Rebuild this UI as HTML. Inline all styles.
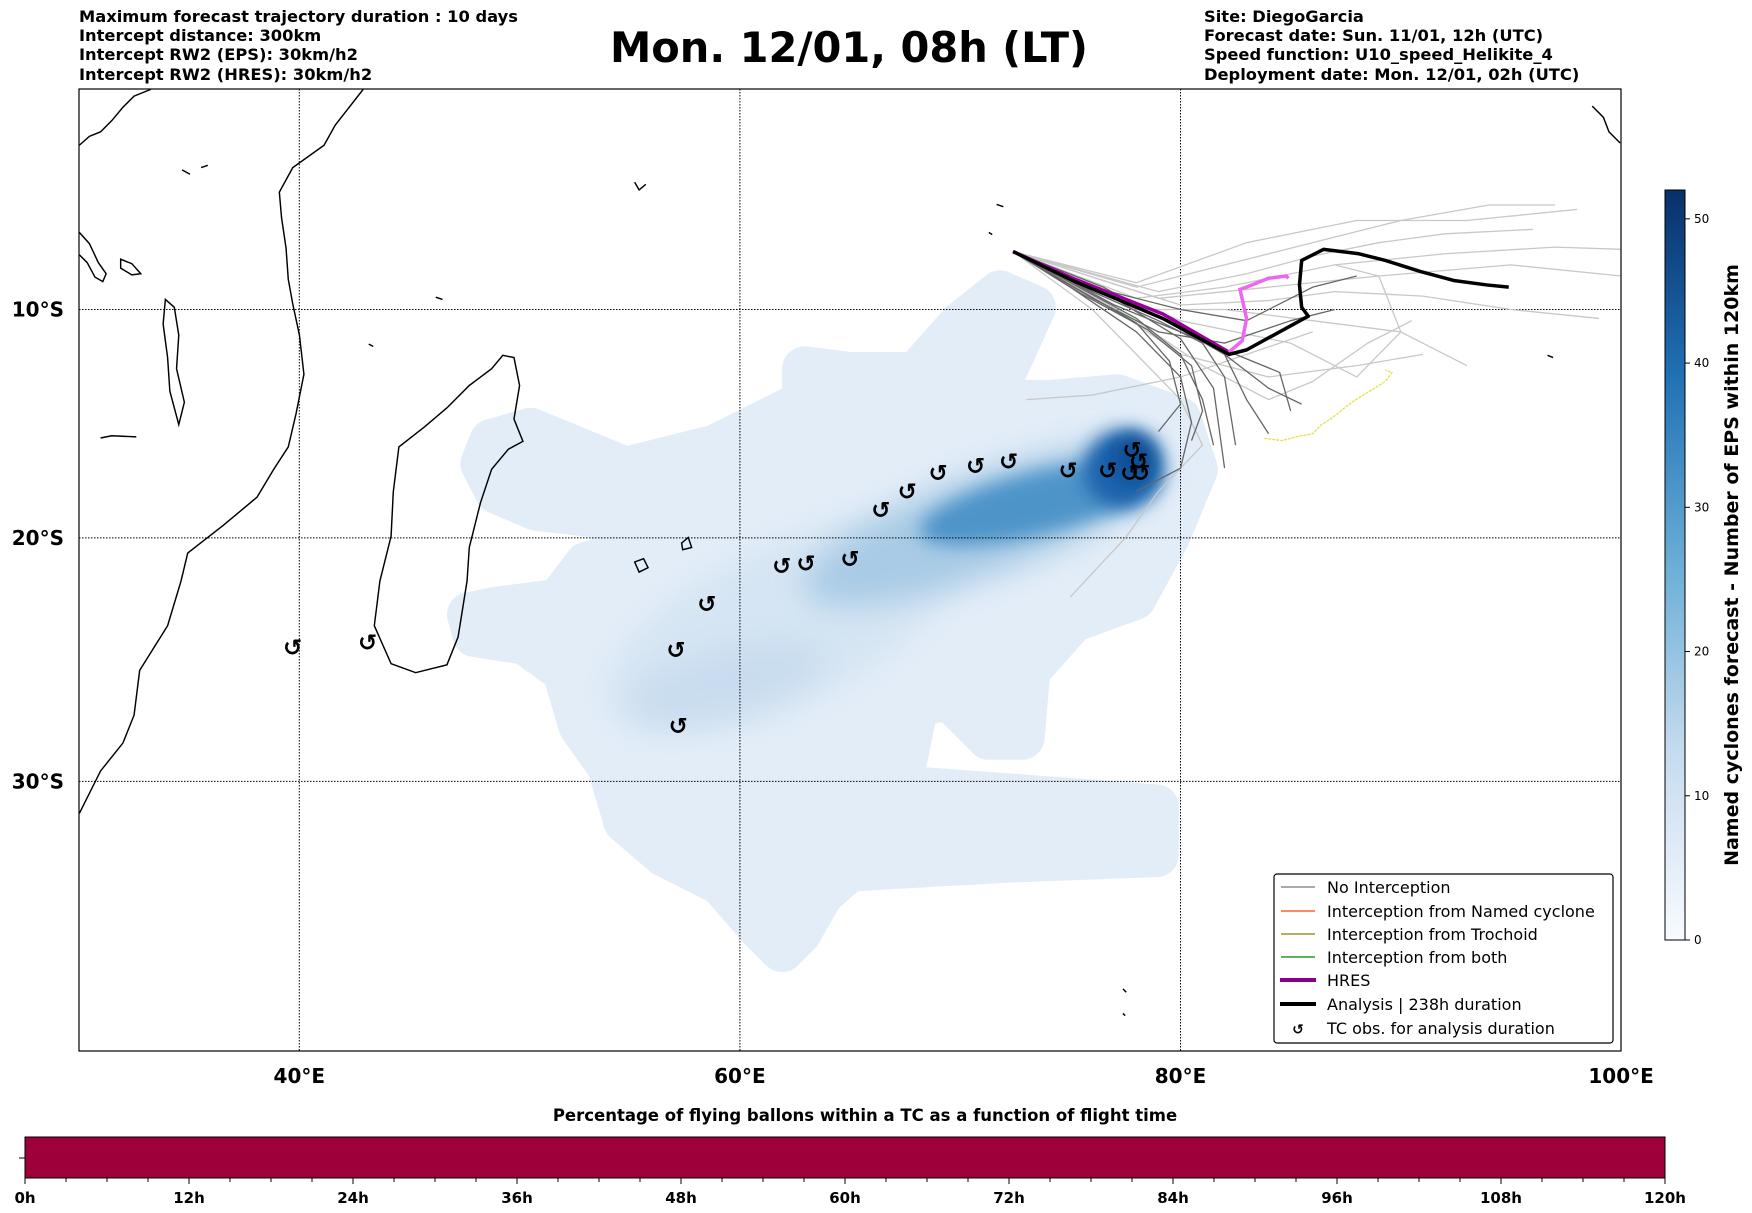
<!DOCTYPE html>
<html><head><meta charset="utf-8">
<style>
body{margin:0;background:#fff;}
svg{display:block;font-family:"DejaVu Sans","Liberation Sans",sans-serif;}
.hd{font-size:16.3px;font-weight:bold;}
</style></head>
<body>
<svg id="chart" width="1752" height="1213" viewBox="0 0 1752 1213" xmlns="http://www.w3.org/2000/svg">
<defs>
<filter id="blur1" x="-50%" y="-50%" width="200%" height="200%"><feGaussianBlur stdDeviation="14"/></filter>
<filter id="blur2" x="-50%" y="-50%" width="200%" height="200%"><feGaussianBlur stdDeviation="8"/></filter>
<linearGradient id="blues" x1="0" y1="1" x2="0" y2="0">
<stop offset="0" stop-color="#f7fbff"/><stop offset="0.25" stop-color="#c6dbef"/><stop offset="0.5" stop-color="#6baed6"/><stop offset="0.75" stop-color="#2171b5"/><stop offset="1" stop-color="#08306b"/>
</linearGradient>
<clipPath id="mapclip"><rect x="79" y="89" width="1542" height="962"/></clipPath>
</defs>

<g>
<text class="hd" x="79" y="22">Maximum forecast trajectory duration : 10 days</text>
<text class="hd" x="79" y="41">Intercept distance: 300km</text>
<text class="hd" x="79" y="60">Intercept RW2 (EPS):  30km/h2</text>
<text class="hd" x="79" y="80">Intercept RW2 (HRES): 30km/h2</text>
</g>
<text x="849" y="62" text-anchor="middle" font-size="41.5" font-weight="bold">Mon. 12/01, 08h (LT)</text>
<g>
<text class="hd" x="1204" y="22">Site: DiegoGarcia</text>
<text class="hd" x="1204" y="41">Forecast date: Sun. 11/01, 12h (UTC)</text>
<text class="hd" x="1204" y="60">Speed function: U10_speed_Helikite_4</text>
<text class="hd" x="1204" y="80">Deployment date: Mon. 12/01, 02h (UTC)</text>
</g>

<g clip-path="url(#mapclip)">
<g transform="scale(1.11735)">
<g>
<polygon fill="#e3edf8" stroke="#e3edf8" stroke-width="40" stroke-linejoin="round" points="440,395 475,385 560,420 640,400 720,360 720,330 760,335 820,335 860,290 895,262 925,275 900,330 860,360 940,360 1000,355 1055,375 1070,420 1045,480 1015,535 960,555 920,600 915,660 885,660 850,625 820,630 805,705 900,712 1035,722 1035,765 900,770 760,778 735,800 715,835 700,850 680,830 645,790 595,765 560,735 545,685 520,650 505,600 470,575 425,568 420,550 445,545 500,538 525,505 560,495 540,462 480,455 445,440 432,415"/>
<ellipse cx="700" cy="560" rx="170" ry="70" fill="#d5e5f3" transform="rotate(-25 700 560)" filter="url(#blur1)"/>
<ellipse cx="650" cy="610" rx="90" ry="30" fill="#c9dcef" transform="rotate(-15 650 610)" filter="url(#blur1)"/>
<ellipse cx="880" cy="470" rx="170" ry="45" fill="#a9cbe5" transform="rotate(-20 880 470)" filter="url(#blur1)"/>
<ellipse cx="930" cy="450" rx="110" ry="28" fill="#4d94c9" transform="rotate(-14 930 450)" filter="url(#blur2)"/>
<ellipse cx="1005" cy="420" rx="35" ry="35" fill="#1e64ad" filter="url(#blur2)"/>
<ellipse cx="1015" cy="410" rx="20" ry="22" fill="#0d4f97" filter="url(#blur2)"/>
</g>
<g fill="none" stroke="#000" stroke-width="1.3">
<path d="M71,728 L90,690 L110,665 L120,640 L125,600 L150,560 L162,520 L168,495 L200,470 L230,445 L245,420 L258,400 L265,370 L272,335 L268,300 L262,272 L258,250 L256,222 L252,195 L250,172 L262,150 L290,130 L300,112 L325,80"/>
<path d="M71,130 L80,122 L90,118 L100,108 L110,96 L120,86 L135,80"/>
<path d="M71,208 L80,218 L88,235 L95,245 L92,252 L85,248 L78,235 L71,228"/>
<path d="M460,320 L465,345 L460,375 L468,395 L455,402 L440,420 L430,450 L420,490 L418,520 L410,570 L400,595 L372,602 L350,594 L335,560 L340,520 L350,480 L352,440 L357,400 L380,382 L400,365 L420,345 L440,330 L450,318 Z"/>
<path d="M148,268 L156,275 L160,300 L158,330 L165,360 L160,380 L152,350 L150,320 L146,290 Z"/>
<path d="M108,232 L118,236 L126,245 L118,246 L108,240 Z"/>
<path d="M90,392 L100,390 L122,391"/>
<path d="M568,503 L576,500 L580,508 L572,512 Z"/>
<path d="M610,486 L616,481 L619,490 L611,492 Z"/>
<path d="M1425,95 L1435,105 L1440,118 L1450,128"/>
<path d="M1385,318 L1390,320"/><path d="M1005,885 L1008,888"/><path d="M1005,907 L1007,909"/>
<path d="M892,183 L898,185"/><path d="M885,208 L888,210"/><path d="M568,163 L572,170 L578,165"/>
<path d="M390,266 L396,268"/><path d="M330,308 L334,310"/><path d="M163,152 L170,156"/><path d="M180,150 L186,148"/>
</g>
</g>
</g>

<g id="grid" stroke="#000" stroke-width="1" stroke-dasharray="1.5,1.5"></g>
<g id="tracks" clip-path="url(#mapclip)"></g>
<g id="tcobs"></g>
<rect x="79" y="89" width="1542" height="962" fill="none" stroke="#000" stroke-width="1.2"/>
<g id="axlabels" font-size="20" font-weight="bold"></g>

<g font-size="16">
<rect x="1274" y="874" width="339" height="169" rx="3" fill="#fff" stroke="#000" stroke-width="1.2"/>
<g><line x1="1281" y1="887" x2="1315" y2="887" stroke="#777" stroke-width="1.2"/><text x="1327" y="893">No Interception</text></g>
<g><line x1="1281" y1="911" x2="1315" y2="911" stroke="#ff4500" stroke-width="1.2"/><text x="1327" y="917">Interception from Named cyclone</text></g>
<g><line x1="1281" y1="934" x2="1315" y2="934" stroke="#808000" stroke-width="1.2"/><text x="1327" y="940">Interception from Trochoid</text></g>
<g><line x1="1281" y1="957" x2="1315" y2="957" stroke="#008000" stroke-width="1.2"/><text x="1327" y="963">Interception from both</text></g>
<g><line x1="1280" y1="980" x2="1316" y2="980" stroke="#8b008b" stroke-width="4"/><text x="1327" y="986">HRES</text></g>
<g><line x1="1280" y1="1004" x2="1316" y2="1004" stroke="#000" stroke-width="4"/><text x="1327" y="1010">Analysis | 238h duration</text></g>
<g><text x="1298" y="1034" text-anchor="middle" font-weight="bold" font-size="14">↺</text><text x="1327" y="1034">TC obs. for analysis duration</text></g>
</g>

<g>
<rect x="1665" y="190" width="20" height="750" fill="url(#blues)" stroke="#000" stroke-width="1"/>
<g id="cbticks" font-size="12"></g>
<text transform="translate(1738,565) rotate(-90)" text-anchor="middle" font-size="19" font-weight="bold">Named cyclones forecast - Number of EPS within 120km</text>
</g>

<g>
<text x="865" y="1121" text-anchor="middle" font-size="16.5" font-weight="bold">Percentage of flying ballons within a TC as a function of flight time</text>
<rect x="25" y="1137" width="1640" height="41" fill="#9e003a" stroke="#000" stroke-width="1"/>
<line x1="19" y1="1158" x2="25" y2="1158" stroke="#000"/>
<g id="bticks" font-size="15" font-weight="bold"></g>
</g>

<script>
const NS='http://www.w3.org/2000/svg';
const gridLons=[40,60,80];
const gridLats=[10,20,30];
const lonTickLabels=['40°E','60°E','80°E','100°E'];
const lonTicks=[40,60,80,100];
const latTickLabels=['10°S','20°S','30°S'];
const tcLon=[39.7,43.1,57.1,58.5,57.2,61.9,63.0,65.0,66.4,67.6,69.0,70.7,72.2,74.9,76.7,77.7,77.8,78.1,78.2];
const tcLat=[24.6,24.4,24.7,22.8,27.8,21.2,21.1,20.9,18.8,18.0,17.2,16.9,16.7,17.1,17.1,17.2,16.2,16.7,17.2];
const analysisLon=[72.4,75.1,79.2,82.2,83.0,85.8,85.5,85.4,85.5,86.5,88.1,89.3,90.9,92.4,93.9,94.9];
const analysisLat=[7.4,8.7,10.4,12.0,11.8,10.3,9.9,8.9,7.8,7.3,7.5,7.8,8.3,8.7,8.9,9.0];
const hresLon=[72.4,75.1,79.2,82.2,82.8,83.0,82.7,83.0,84.0,84.8,84.9];
const hresLat=[7.4,8.6,10.2,11.9,11.4,10.4,9.1,9.0,8.6,8.5,8.6];
const darkMembersLon=[[72.4,76,80,82,83,84],[72.4,76,79,81,82,82.5],[72.4,75,78,80,81,81.5],[72.4,76,79,82,85,87],[72.4,76,80,83,86,88],[72.4,75,78,80,80.5,80,78],[72.4,77,80,81.5,82],[72.4,74,77,80,82.5,84.5,85],[72.4,75.5,78.5,80.5,81,80.5],[72.4,76.5,79.5,82,84,85.5],[72.4,75,78,79.5,80,79]];
const darkMembersLat=[[7.4,9,10.8,12,14,15.5],[7.4,9.2,10.5,11.5,13,16],[7.4,8.8,10.4,12,14,16],[7.4,9.5,11,11.5,10.5,10],[7.4,9,10,10.5,9,8.5],[7.4,9,11,13,15,17,18],[7.4,9.5,11.3,13.5,17],[7.4,8.2,9.8,11,12,12.8,14.5],[7.4,9.3,10.9,12.5,14.5,15.8],[7.4,9,10.6,12,13.5,14.2],[7.4,8.9,10.6,12.3,14.2,15.4]];
const lightMembersLon=[[72.4,78,82,86,90,94,97],[72.4,78,82,87,92,97,100],[72.4,78,82,86,90,93],[72.4,77,80,84,88,91],[72.4,76,78,80,81,79,77.5,76,75],[73,76,80,83,86],[72.4,78,83,88,93,98],[72.4,79,84,89,95,100],[72.4,80,85,88,90,89,87],[72.4,79,83,86,89,92,96],[72.4,78,81,84,86,88.5,90.5],[72.4,80,84,87,91,95,99]];
const lightMembersLat=[[7.4,9,8,7,6,5.3,5.3],[7.4,9.5,9,8,7.5,7.2,7.3],[7.4,10,10,10.5,11,12.5],[7.4,10,12,13,12.5,12],[7.4,10,12,14,16,18,20,21.5,22.5],[14,13.8,13,12,11],[7.4,8.8,7,6,6,5.5],[7.4,9.5,9,8.5,8,8.5],[7.4,10.5,11.5,13,11,8.5,8],[7.4,9.2,8.4,7.6,7,6.6,6.4],[7.4,10.5,12.5,14,13.2,11.5,10.5],[7.4,9.8,9.6,9.2,9.4,10,10.4]];
const trochLon=[83.8,84.6,85.4,86.0,86.4,86.9,87.4,87.8,88.3,88.8,89.3,89.6,89.3];
const trochLat=[15.7,15.8,15.6,15.5,15.1,14.8,14.4,14.1,13.8,13.5,13.2,12.8,12.7];
const cbTicks=[0,10,20,30,40,50];
const cbMax=52;
const flightTickLabels=['0h','12h','24h','36h','48h','60h','72h','84h','96h','108h','120h'];
const flightTicks=[0,12,24,36,48,60,72,84,96,108,120];
function merc(l){return Math.log(Math.tan(Math.PI/4+l*Math.PI/360));}
function X(lon){return 79+(lon-30)*22.03;}
function Y(lat){return 309.5+1262*(merc(lat)-merc(10));}
function CY(v){return 940-v/cbMax*750;}
function FX(h){return 25+h/120*1640;}
function mk(tag,parent,attrs){const e=document.createElementNS(NS,tag);for(const k in attrs)e.setAttribute(k,attrs[k]);parent.appendChild(e);return e;}
const grid=document.getElementById('grid');
gridLons.forEach(l=>{const e=mk('line',grid,{x1:X(l),x2:X(l),y1:89,y2:1051});

});
gridLats.forEach(l=>{const e=mk('line',grid,{x1:79,x2:1621,y1:Y(l),y2:Y(l)});

});
const ax=document.getElementById('axlabels');
lonTicks.forEach((l,i)=>{const t=mk('text',ax,{x:X(l),y:1083,'text-anchor':'middle'});t.textContent=lonTickLabels[i];

});
gridLats.forEach((l,i)=>{const t=mk('text',ax,{x:64,y:Y(l)+7,'text-anchor':'end'});t.textContent=latTickLabels[i];

});
const tr=document.getElementById('tracks');
function pts(lo,la){return lo.map((v,i)=>X(v)+','+Y(la[i])).join(' ');}
lightMembersLon.forEach((lo,i)=>{const p=mk('polyline',tr,{points:pts(lo,lightMembersLat[i]),fill:'none',stroke:'#c8c8c8','stroke-width':1.3,'stroke-linejoin':'round'});

});
darkMembersLon.forEach((lo,i)=>{const p=mk('polyline',tr,{points:pts(lo,darkMembersLat[i]),fill:'none',stroke:'#666','stroke-width':1.3,'stroke-linejoin':'round'});

});
const tp=mk('polyline',tr,{points:pts(trochLon,trochLat),fill:'none',stroke:'#e6e04a','stroke-width':1.3,'stroke-dasharray':'3,1'});


const h1=mk('polyline',tr,{points:pts(hresLon.slice(0,4),hresLat.slice(0,4)),fill:'none',stroke:'#990099','stroke-width':3.5});


const h2=mk('polyline',tr,{points:pts(hresLon.slice(3),hresLat.slice(3)),fill:'none',stroke:'#ee66ee','stroke-width':3.5});


const an=mk('polyline',tr,{points:pts(analysisLon,analysisLat),fill:'none',stroke:'#000','stroke-width':3.5,'stroke-linejoin':'round'});


const tc=document.getElementById('tcobs');
tcLon.forEach((l,i)=>{const t=mk('text',tc,{x:X(l),y:Y(tcLat[i])+8,'text-anchor':'middle','font-weight':'bold','font-size':'23'});t.textContent='↺';

});
const cb=document.getElementById('cbticks');
cbTicks.forEach(v=>{mk('line',cb,{x1:1685,x2:1690,y1:CY(v),y2:CY(v),stroke:'#000'});const t=mk('text',cb,{x:1694,y:CY(v)+4});t.textContent=v;

});
const bt=document.getElementById('bticks');
for(let h=0;h<=120;h+=3){mk('line',bt,{x1:FX(h),x2:FX(h),y1:1178,y2:h%12?1182:1184,stroke:'#000'});}
flightTicks.forEach((h,i)=>{const t=mk('text',bt,{x:FX(h),y:1203,'text-anchor':'middle'});t.textContent=flightTickLabels[i];

});
</script>
</svg>
</body></html>
